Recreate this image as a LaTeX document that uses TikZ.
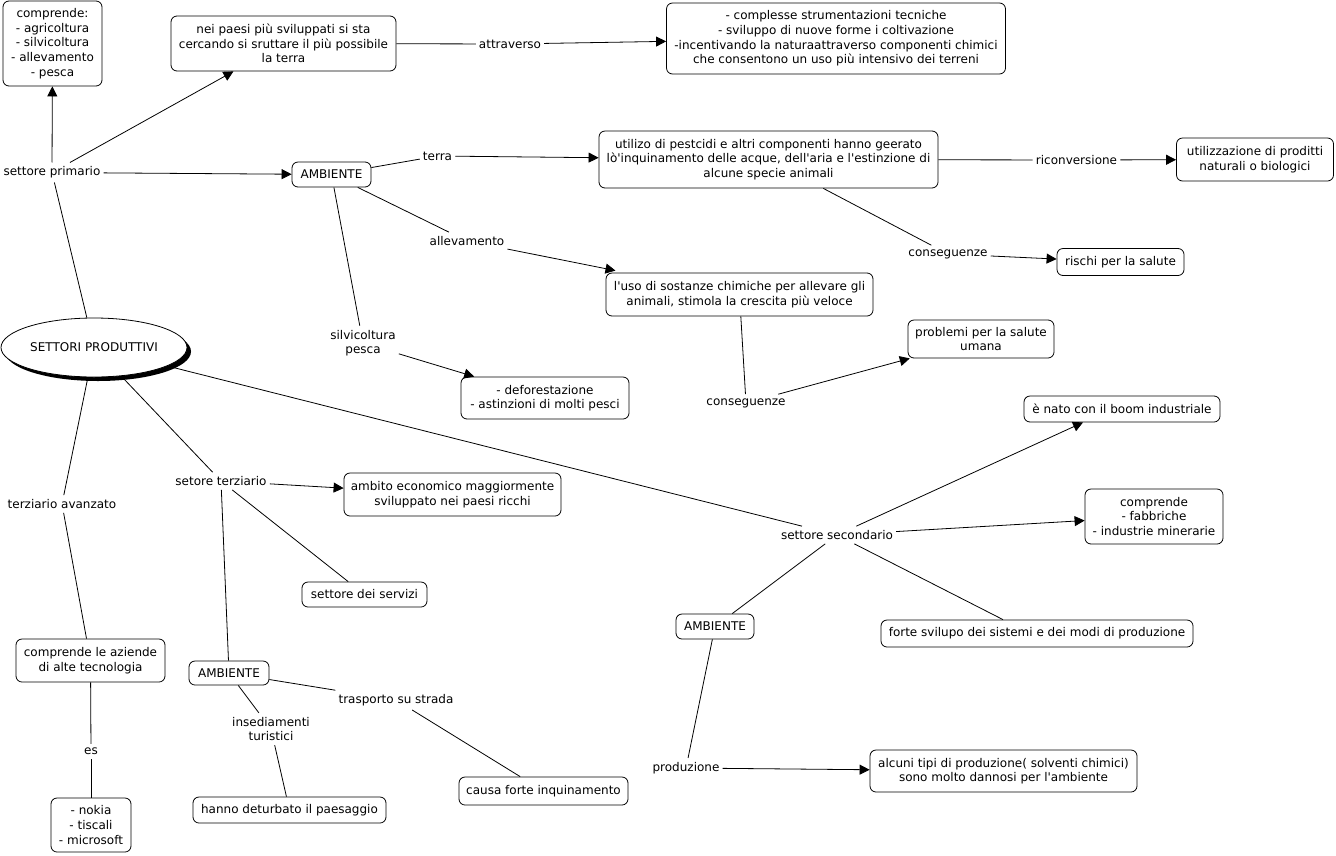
\documentclass[tikz,border=0pt]{standalone}
\usepackage{fontspec}
\setmainfont{DejaVu Sans}[Ligatures=TeXOff]
\usetikzlibrary{arrows.meta,shapes.geometric,shadows}
\begin{document}
\begin{tikzpicture}[x=1pt,y=-1pt,font=\fontsize{12}{14.6}\selectfont,
  box/.style={draw, rounded corners=6pt, align=center, inner sep=0pt, line width=0.8pt, fill=white},
  bx/.style 2 args={box, minimum width=#1pt, minimum height=#2pt},
  lbl/.style={align=center, inner xsep=3pt, inner ysep=4pt},
  ln/.style={line width=0.8pt},
  arr/.style={ln, -{Triangle[length=10pt,width=10pt]}}]
\fill[white] (0,0) rectangle (1336,855);
\useasboundingbox (0,0) rectangle (1336,855);

% boxes
\node[bx={99}{85}] (comp) at (52.5,43.5) {comprende:\\- agricoltura\\- silvicoltura\\- allevamento\\- pesca};
\node[bx={225}{55}] (np) at (283.5,43.5) {nei paesi più sviluppati si sta\\cercando si sruttare il più possibile\\la terra};
\node[bx={339}{71}] (cs) at (836,38.5) {- complesse strumentazioni tecniche\\- sviluppo di nuove forme i coltivazione\\-incentivando la naturaattraverso componenti chimici\\che consentono un uso più intensivo dei terreni};
\node[bx={339}{57}] (ut) at (768.5,159.5) {utilizo di pestcidi e altri componenti hanno geerato\\lò'inquinamento delle acque, dell'aria e l'estinzione di\\alcune specie animali};
\node[bx={157}{43}] (uz) at (1255,159.5) {utilizzazione di proditti\\naturali o biologici};
\node[bx={127}{27}] (ri) at (1120.5,262) {rischi per la salute};
\node[bx={267}{43}] (us) at (739.5,294.5) {l'uso di sostanze chimiche per allevare gli\\animali, stimola la crescita più veloce};
\node[bx={146}{38}] (pr) at (981,339) {problemi per la salute\\umana};
\node[bx={168}{42}] (df) at (545,398) {- deforestazione\\- astinzioni di molti pesci};
\node[bx={196}{26}] (bn) at (1122,409) {è nato con il boom industriale};
\node[bx={138}{55}] (cf) at (1154,516.5) {comprende\\- fabbriche\\- industrie minerarie};
\node[bx={217}{43}] (am) at (452.5,494.5) {ambito economico maggiormente\\sviluppato nei paesi ricchi};
\node[bx={125}{25}] (ss) at (364.5,594.5) {settore dei servizi};
\node[bx={78}{25}] (a2) at (715,626.5) {AMBIENTE};
\node[bx={312}{27}] (fs) at (1037,633.5) {forte svilupo dei sistemi e dei modi di produzione};
\node[bx={149}{43}] (ca) at (90.5,660.5) {comprende le aziende\\di alte tecnologia};
\node[bx={80}{24}] (a3) at (229,673) {AMBIENTE};
\node[bx={169}{28}] (cfi) at (543.5,791) {causa forte inquinamento};
\node[bx={193}{26}] (hd) at (289.5,810) {hanno deturbato il paesaggio};
\node[bx={80}{54}] (nk) at (91,825) {- nokia\\- tiscali\\- microsoft};
\node[bx={267}{42}] (al) at (1003.5,771) {alcuni tipi di produzione( solventi chimici)\\sono molto dannosi per l'ambiente};
\node[bx={79}{25}] (a1) at (331.5,174.5) {AMBIENTE};

% central ellipse
\node[ellipse, draw, fill=white, line width=0.8pt, minimum width=186pt, minimum height=59pt, inner sep=0pt,
  drop shadow={shadow xshift=4pt, shadow yshift=-4pt, fill=black, opacity=1}] (sp) at (94,347.5) {SETTORI PRODUTTIVI};

% labels
\node[lbl] (lsp) at (52,172.5) {settore primario};
\node[lbl] (lat) at (510,44) {attraverso};
\node[lbl] (lte) at (437.5,156) {terra};
\node[lbl] (lri) at (1076.5,160) {riconversione};
\node[lbl] (lal) at (467,241) {allevamento};
\node[lbl] (lco1) at (948,254) {conseguenze};
\node[lbl] (lsi) at (363,343) {silvicoltura\\pesca};
\node[lbl] (lco2) at (746,403) {conseguenze};
\node[lbl] (lsec) at (837,535) {settore secondario};
\node[lbl] (lter) at (221,481) {setore terziario};
\node[lbl] (ltav) at (62,504) {terziario avanzato};
\node[lbl] (ltr) at (396,700) {trasporto su strada};
\node[lbl] (lin) at (271,729) {insediamenti\\turistici};
\node[lbl] (les) at (91,751.5) {es};
\node[lbl] (lpr) at (686,768) {produzione};

% connectors
\draw[ln] (sp) -- (lsp);
\draw[arr] (lsp) -- (comp);
\draw[arr] (lsp) -- (np);
\draw[arr] (lsp) -- (a1);
\draw[ln] (np) -- (lat);
\draw[arr] (lat) -- (cs);
\draw[ln] (a1) -- (lte);
\draw[arr] (lte) -- (ut);
\draw[ln] (a1) -- (lal);
\draw[arr] (lal) -- ([xshift=-124pt,yshift=2pt]us.north);
\draw[ln] (a1) -- (lsi);
\draw[arr] (lsi) -- (df);
\draw[ln] (ut) -- (lri);
\draw[arr] (lri) -- (uz);
\draw[ln] (ut) -- (lco1);
\draw[arr] (lco1) -- (ri);
\draw[ln] (us) -- (lco2);
\draw[arr] (lco2) -- (pr);
\draw[ln] (sp) -- (lsec);
\draw[arr] (lsec) -- ([xshift=-39pt]bn.south);
\draw[arr] (lsec) -- (cf);
\draw[ln] (lsec) -- ([xshift=-34pt]fs.north);
\draw[ln] (lsec) -- (a2);
\draw[ln] (a2) -- (lpr);
\draw[arr] (lpr) -- (al);
\draw[ln] (sp) -- (lter);
\draw[arr] (lter) -- (am);
\draw[ln] (lter) -- (ss);
\draw[ln] (lter) -- (a3);
\draw[ln] (a3) -- (ltr);
\draw[ln] (ltr) -- (cfi);
\draw[ln] (a3) -- (lin);
\draw[ln] (lin) -- (hd);
\draw[ln] (sp) -- (ltav);
\draw[ln] (ltav) -- (ca);
\draw[ln] (ca) -- (les);
\draw[ln] (les) -- (nk);
\end{tikzpicture}
\end{document}
